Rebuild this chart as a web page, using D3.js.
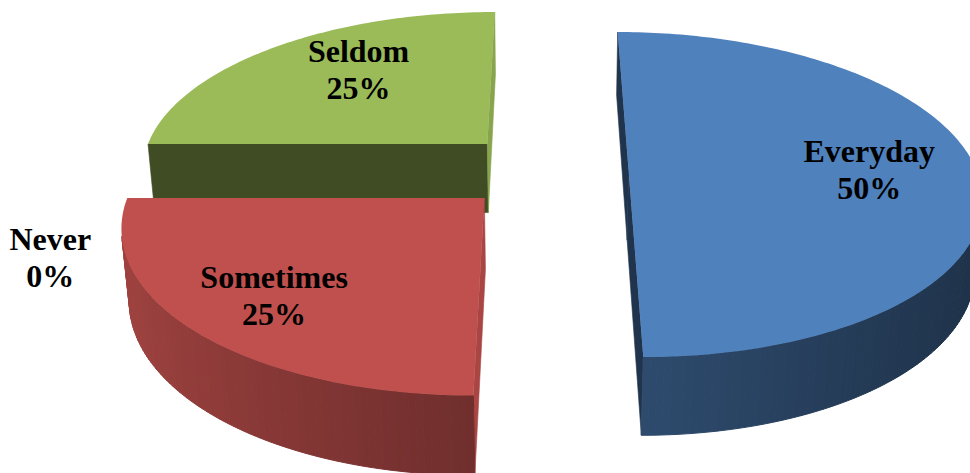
<!DOCTYPE html>
<html><head><meta charset="utf-8">
<script src="https://cdn.jsdelivr.net/npm/d3@7"></script>
<style>html,body{margin:0;padding:0;background:#fff;overflow:hidden}</style>
</head><body>
<svg id="chart" width="970" height="473"></svg>
<script>
// ---- data ----
const categories = ["Everyday", "Sometimes", "Never", "Seldom"];
const values = [50, 25, 0, 25];
const percentLabels = ["50%", "25%", "0%", "25%"];

// ---- style ----
const colors = {Everyday: "#4F81BD", Sometimes: "#C0504D", Never: "#8064A2", Seldom: "#9BBB59"};
const labelNudge = {Everyday: [-3, 0], Sometimes: [-14, 8], Never: [3, 88], Seldom: [24, -4]};
const view = {cx: 545, cy: 170.2, F: 2068, D: 5.943, sinPhi: 0.4566, explode: 0.2402, thickness: 0.23};
const cosPhi = Math.sqrt(1 - view.sinPhi * view.sinPhi);
const camera = [0, view.D * view.sinPhi, view.D * cosPhi];

function project(p) {
  const [X, Y, Z] = p;
  const w = view.D - Y * view.sinPhi - Z * cosPhi;
  const v = Y * cosPhi - Z * view.sinPhi;
  return [view.cx + view.F * X / w, view.cy - view.F * v / w];
}
function facing(n, p) {
  return n[0] * (camera[0] - p[0]) + n[1] * (camera[1] - p[1]) + n[2] * (camera[2] - p[2]) > 0;
}
function shade(color, f) {
  const c = d3.rgb(color);
  return d3.rgb(c.r * f, c.g * f, c.b * f).formatHex();
}
function sideFactor(t) { return 0.62 - 0.23 * Math.sin(t) + 0.04 * Math.cos(t); }

const svg = d3.select("#chart");
const line = d3.line();

const data = categories.map((c, i) => ({name: c, value: values[i], pct: percentLabels[i]}));
const arcs = d3.pie().sort(null).value(d => d.value)(data);

arcs.forEach(a => {
  const mid = (a.startAngle + a.endAngle) / 2;
  a.mid = mid;
  a.off = [view.explode * Math.sin(mid), 0, -view.explode * Math.cos(mid)];
});
const pt = (a, t, r, Y) => [a.off[0] + r * Math.sin(t), Y, a.off[2] - r * Math.cos(t)];

// far slices first
const drawn = arcs.filter(a => a.value > 0).sort((p, q) => p.off[2] - q.off[2]);

drawn.forEach(a => {
  const col = colors[a.data.name];
  const g = svg.append("g");
  const h = -view.thickness;
  const a0 = a.startAngle, a1 = a.endAngle;
  const n = Math.max(8, Math.ceil((a1 - a0) / (Math.PI / 180)));
  const ts = d3.range(n + 1).map(i => a0 + (a1 - a0) * i / n);

  // radial faces
  [[a0, -1], [a1, 1]].forEach(([t, s]) => {
    const nrm = [s * Math.cos(t), 0, s * Math.sin(t)];
    const mp = pt(a, t, 0.5, 0);
    if (!facing(nrm, mp)) return;
    const quad = [pt(a, t, 0, 0), pt(a, t, 1, 0), pt(a, t, 1, h), pt(a, t, 0, h)].map(project);
    const f = nrm[0] > 0.5 ? 0.88 : 0.41;
    g.append("path").attr("d", line(quad) + "Z")
      .attr("fill", shade(col, f)).attr("stroke", shade(col, f)).attr("stroke-width", 0.6);
  });

  // outer curved side
  for (let i = 0; i < n; i++) {
    const tm = (ts[i] + ts[i + 1]) / 2;
    const nrm = [Math.sin(tm), 0, -Math.cos(tm)];
    if (!facing(nrm, pt(a, tm, 1, 0))) continue;
    const quad = [pt(a, ts[i], 1, 0), pt(a, ts[i + 1], 1, 0), pt(a, ts[i + 1], 1, h), pt(a, ts[i], 1, h)].map(project);
    const c = shade(col, sideFactor(tm));
    g.append("path").attr("d", line(quad) + "Z").attr("fill", c).attr("stroke", c).attr("stroke-width", 1);
  }

  // top face
  const top = [pt(a, a0, 0, 0)].concat(ts.map(t => pt(a, t, 1, 0))).map(project);
  g.append("path").attr("d", line(top) + "Z").attr("fill", col);
});

// labels
arcs.forEach(a => {
  const r = a.value > 0 ? 0.7 : 1.19;
  const [x, y] = project(pt(a, a.mid, r, 0));
  const [dx, dy] = labelNudge[a.data.name];
  const t = svg.append("text")
    .attr("text-anchor", "middle")
    .attr("font-family", "'Liberation Serif', 'Times New Roman', serif")
    .attr("font-weight", "bold").attr("font-size", 32).attr("fill", "#000");
  t.append("tspan").attr("x", x + dx).attr("y", y + dy - 8).text(a.data.name);
  t.append("tspan").attr("x", x + dx).attr("y", y + dy + 29).text(a.data.pct);
});
</script>
</body></html>
